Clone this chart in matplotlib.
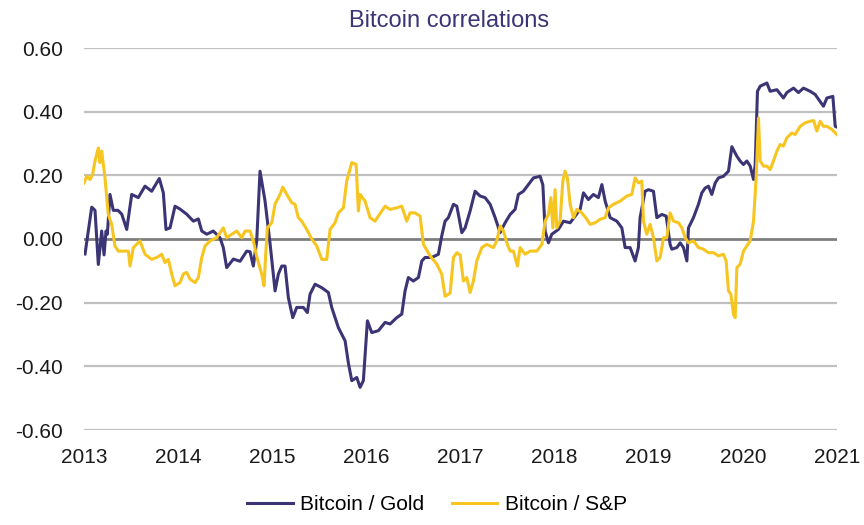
import matplotlib
matplotlib.use("Agg")
import matplotlib.pyplot as plt
import numpy as np

plt.rcParams['font.family'] = ['Liberation Sans', 'DejaVu Sans']

# Bitcoin / Gold correlation (decimal year, value)
gold_t = [2013.011, 2013.082, 2013.117, 2013.152, 2013.188, 2013.213, 2013.234, 2013.248, 2013.276, 2013.311,
          2013.361, 2013.401, 2013.454, 2013.507, 2013.577, 2013.648, 2013.719, 2013.800, 2013.843, 2013.871,
          2013.914, 2013.967, 2014.020, 2014.091, 2014.162, 2014.215, 2014.251, 2014.304, 2014.374, 2014.445,
          2014.480, 2014.516, 2014.587, 2014.658, 2014.729, 2014.764, 2014.799, 2014.835, 2014.870, 2014.923,
          2014.977, 2015.030, 2015.065, 2015.101, 2015.136, 2015.171, 2015.218, 2015.260, 2015.330, 2015.373,
          2015.402, 2015.455, 2015.526, 2015.596, 2015.632, 2015.702, 2015.774, 2015.809, 2015.845, 2015.898,
          2015.933, 2015.968, 2016.011, 2016.057, 2016.128, 2016.199, 2016.252, 2016.323, 2016.376, 2016.411,
          2016.446, 2016.499, 2016.553, 2016.589, 2016.624, 2016.695, 2016.765, 2016.801, 2016.836, 2016.871,
          2016.925, 2016.961, 2017.014, 2017.049, 2017.102, 2017.155, 2017.208, 2017.261, 2017.315, 2017.368,
          2017.421, 2017.474, 2017.527, 2017.580, 2017.615, 2017.668, 2017.722, 2017.775, 2017.846, 2017.875,
          2017.899, 2017.934, 2017.970, 2018.040, 2018.094, 2018.165, 2018.218, 2018.271, 2018.306, 2018.359,
          2018.412, 2018.465, 2018.502, 2018.537, 2018.590, 2018.661, 2018.714, 2018.749, 2018.802, 2018.855,
          2018.890, 2018.908, 2018.961, 2018.997, 2019.050, 2019.086, 2019.139, 2019.185, 2019.227, 2019.245,
          2019.298, 2019.334, 2019.369, 2019.405, 2019.422, 2019.475, 2019.528, 2019.564, 2019.599, 2019.634,
          2019.670, 2019.706, 2019.741, 2019.794, 2019.847, 2019.883, 2019.936, 2019.971, 2020.006, 2020.042,
          2020.078, 2020.113, 2020.131, 2020.155, 2020.184, 2020.219, 2020.255, 2020.290, 2020.361, 2020.431,
          2020.467, 2020.538, 2020.591, 2020.644, 2020.715, 2020.768, 2020.821, 2020.856, 2020.893, 2020.956,
          2020.981, 2021.016]
gold_v = [-0.047, 0.100, 0.090, -0.080, 0.025, -0.050, 0.025, 0.015, 0.140, 0.090,
          0.090, 0.078, 0.030, 0.140, 0.130, 0.166, 0.150, 0.190, 0.145, 0.030,
          0.035, 0.103, 0.094, 0.078, 0.056, 0.063, 0.025, 0.015, 0.025, 0.004,
          -0.027, -0.090, -0.063, -0.070, -0.038, -0.040, -0.085, -0.006, 0.213, 0.120,
          -0.015, -0.163, -0.110, -0.085, -0.085, -0.184, -0.247, -0.215, -0.215, -0.231,
          -0.173, -0.142, -0.153, -0.168, -0.215, -0.278, -0.320, -0.390, -0.445, -0.435,
          -0.466, -0.445, -0.257, -0.294, -0.288, -0.262, -0.267, -0.247, -0.236, -0.163,
          -0.121, -0.132, -0.121, -0.069, -0.058, -0.058, -0.048, 0.010, 0.056, 0.067,
          0.109, 0.103, 0.020, 0.035, 0.088, 0.150, 0.135, 0.130, 0.109, 0.067,
          0.020, 0.051, 0.077, 0.093, 0.140, 0.150, 0.171, 0.192, 0.197, 0.170,
          0.025, -0.012, 0.015, 0.030, 0.056, 0.051, 0.072, 0.093, 0.145, 0.124,
          0.140, 0.130, 0.171, 0.119, 0.067, 0.056, 0.035, -0.027, -0.027, -0.069,
          -0.027, 0.067, 0.150, 0.155, 0.150, 0.067, 0.077, 0.072, -0.017, -0.032,
          -0.027, -0.012, -0.027, -0.069, 0.035, 0.067, 0.109, 0.145, 0.160, 0.166,
          0.140, 0.176, 0.192, 0.197, 0.213, 0.290, 0.260, 0.245, 0.234, 0.245,
          0.229, 0.187, 0.234, 0.464, 0.480, 0.485, 0.490, 0.464, 0.469, 0.443,
          0.460, 0.474, 0.460, 0.474, 0.464, 0.454, 0.432, 0.417, 0.443, 0.448,
          0.354, 0.349]

# Bitcoin / S&P correlation (decimal year, value)
sp_t = [2013.000, 2013.029, 2013.064, 2013.092, 2013.117, 2013.152, 2013.170, 2013.188, 2013.223, 2013.258,
        2013.294, 2013.329, 2013.365, 2013.418, 2013.471, 2013.489, 2013.524, 2013.595, 2013.648, 2013.719,
        2013.773, 2013.826, 2013.861, 2013.896, 2013.932, 2013.967, 2014.020, 2014.055, 2014.091, 2014.126,
        2014.180, 2014.215, 2014.251, 2014.286, 2014.339, 2014.410, 2014.480, 2014.516, 2014.570, 2014.623,
        2014.676, 2014.711, 2014.764, 2014.799, 2014.835, 2014.888, 2014.913, 2014.930, 2014.948, 2014.995,
        2015.030, 2015.083, 2015.111, 2015.154, 2015.207, 2015.242, 2015.277, 2015.313, 2015.366, 2015.420,
        2015.473, 2015.526, 2015.579, 2015.614, 2015.667, 2015.702, 2015.756, 2015.791, 2015.845, 2015.891,
        2015.915, 2015.933, 2015.986, 2016.039, 2016.092, 2016.127, 2016.164, 2016.199, 2016.252, 2016.323,
        2016.376, 2016.429, 2016.464, 2016.517, 2016.571, 2016.606, 2016.677, 2016.748, 2016.800, 2016.836,
        2016.890, 2016.925, 2016.961, 2016.996, 2017.031, 2017.067, 2017.102, 2017.137, 2017.173, 2017.226,
        2017.279, 2017.350, 2017.385, 2017.421, 2017.456, 2017.498, 2017.527, 2017.562, 2017.605, 2017.633,
        2017.686, 2017.740, 2017.811, 2017.864, 2017.899, 2017.934, 2017.960, 2017.981, 2018.005, 2018.023,
        2018.058, 2018.087, 2018.111, 2018.136, 2018.165, 2018.200, 2018.236, 2018.289, 2018.342, 2018.377,
        2018.430, 2018.484, 2018.537, 2018.572, 2018.625, 2018.696, 2018.767, 2018.820, 2018.855, 2018.890,
        2018.926, 2018.944, 2018.979, 2019.014, 2019.050, 2019.086, 2019.121, 2019.157, 2019.192, 2019.227,
        2019.263, 2019.316, 2019.352, 2019.387, 2019.422, 2019.475, 2019.528, 2019.581, 2019.634, 2019.687,
        2019.741, 2019.794, 2019.822, 2019.847, 2019.872, 2019.900, 2019.918, 2019.936, 2019.971, 2020.006,
        2020.042, 2020.078, 2020.113, 2020.141, 2020.166, 2020.184, 2020.219, 2020.255, 2020.290, 2020.325,
        2020.361, 2020.396, 2020.431, 2020.467, 2020.520, 2020.555, 2020.609, 2020.662, 2020.715, 2020.751,
        2020.786, 2020.821, 2020.856, 2020.893, 2020.946, 2020.999]
sp_v = [0.176, 0.197, 0.187, 0.203, 0.245, 0.286, 0.240, 0.276, 0.192, 0.077,
        0.046, -0.022, -0.038, -0.038, -0.038, -0.085, -0.027, -0.006, -0.048, -0.064,
        -0.058, -0.048, -0.074, -0.064, -0.110, -0.147, -0.137, -0.110, -0.105, -0.126,
        -0.137, -0.121, -0.058, -0.022, -0.006, 0.004, 0.035, 0.004, 0.015, 0.025,
        0.004, 0.025, 0.025, -0.006, -0.055, -0.110, -0.147, -0.050, 0.035, 0.051,
        0.110, 0.140, 0.163, 0.140, 0.114, 0.109, 0.067, 0.056, 0.030, 0.000,
        -0.022, -0.064, -0.064, 0.030, 0.051, 0.082, 0.098, 0.182, 0.240, 0.234,
        0.088, 0.140, 0.119, 0.067, 0.056, 0.072, 0.088, 0.103, 0.093, 0.098,
        0.103, 0.056, 0.082, 0.082, 0.072, -0.017, -0.053, -0.079, -0.110, -0.180,
        -0.170, -0.058, -0.043, -0.050, -0.132, -0.121, -0.168, -0.132, -0.069, -0.027,
        -0.017, -0.027, -0.006, 0.041, 0.025, -0.017, -0.038, -0.038, -0.085, -0.027,
        -0.048, -0.038, -0.038, -0.017, 0.056, 0.077, 0.130, 0.035, 0.155, 0.035,
        0.056, 0.182, 0.213, 0.192, 0.109, 0.067, 0.093, 0.082, 0.062, 0.046,
        0.051, 0.062, 0.067, 0.098, 0.109, 0.119, 0.135, 0.140, 0.192, 0.176,
        0.182, 0.056, 0.015, 0.046, 0.004, -0.069, -0.058, 0.004, 0.004, 0.082,
        0.056, 0.051, 0.035, 0.004, -0.012, -0.006, -0.027, -0.032, -0.043, -0.043,
        -0.053, -0.048, -0.069, -0.163, -0.173, -0.236, -0.247, -0.090, -0.079, -0.038,
        -0.022, -0.006, 0.056, 0.192, 0.380, 0.245, 0.229, 0.229, 0.218, 0.245,
        0.276, 0.297, 0.292, 0.318, 0.333, 0.328, 0.354, 0.365, 0.370, 0.372,
        0.339, 0.370, 0.354, 0.354, 0.344, 0.328]

title = "Bitcoin correlations"
labels = ["Bitcoin / Gold", "Bitcoin / S&P"]
yticks = [-0.6, -0.4, -0.2, 0.0, 0.2, 0.4, 0.6]
xticks = list(range(2013, 2022))

purple = '#3b3575'
yellow = '#f7c520'

fig = plt.figure(figsize=(8.64, 5.25), dpi=100)
ax = fig.add_axes([84/864, 1-430/525, (837-84)/864, (430-48)/525])

for y in yticks:
    if y == 0:
        ax.axhline(y, color='#7f7f7f', lw=2.0, zorder=1)
    else:
        ax.axhline(y, color='#c0c0c0', lw=1.6, zorder=1)

l1, = ax.plot(gold_t, gold_v, color=purple, lw=2.2, zorder=3, label=labels[0])
l2, = ax.plot(sp_t, sp_v, color=yellow, lw=2.2, zorder=4, label=labels[1])

ax.set_xlim(2013, 2021)
ax.set_ylim(-0.6, 0.6)
ax.set_yticks(yticks)
ax.set_yticklabels([f"{v:.2f}" for v in yticks])
ax.set_xticks(xticks)
ax.set_xticklabels([str(x) for x in xticks])
for s in ax.spines.values():
    s.set_visible(False)
ax.tick_params(axis='both', length=0, labelsize=15, colors='#1a1a1a')
ax.tick_params(axis='y', pad=15)
ax.tick_params(axis='x', pad=13)

fig.text(449/864, 1-21/525, title, ha='center', va='center', fontsize=17, color='#3b3575')

fig.legend(handles=[l1, l2], labels=labels, loc='center', bbox_to_anchor=(437/864, 1-505/525),
           ncol=2, frameon=False, fontsize=15, handlelength=2.2, handletextpad=0.35,
           columnspacing=1.3)

fig.savefig('out.png', dpi=100, facecolor='white')
